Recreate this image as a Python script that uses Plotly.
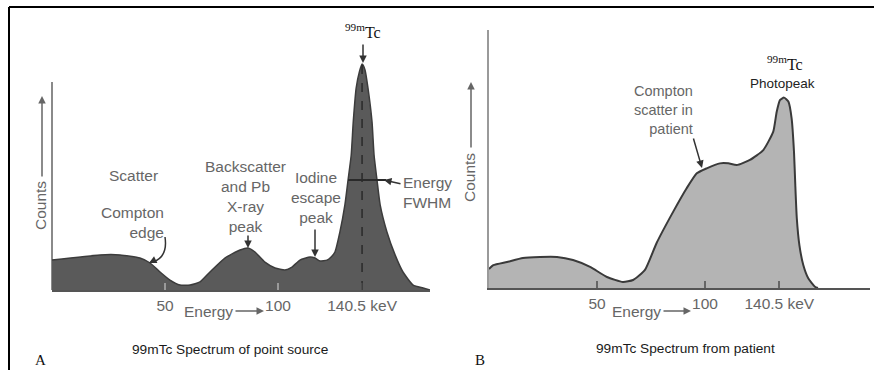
import plotly.graph_objects as go

W, H = 874, 370

# ---------------- data ----------------
# Panel A: 99mTc spectrum of a point source (energy in keV, counts in arbitrary units)
a_energy = [0, 21.2, 30.1, 38.9, 43.4, 47.8, 52.2, 56.6, 61.1, 65.5, 69.9, 76.5, 83.2,
            86.7, 89.8, 94.2, 98.7, 103.1, 106.2, 109.7, 114.2, 116.4, 118.6, 121.7,
            123.5, 125.2, 127.4, 129.6, 131.0, 132.4, 133.3, 134.6, 136.0, 137.2,
            138.5, 139.8, 141.6, 142.5, 143.8, 145.2, 148.2, 151.8, 155.3, 159.8,
            164.2, 167.3]
a_counts = [13.3, 15.6, 15.6, 14.2, 12.0, 8.0, 4.4, 2.2, 2.2, 3.6, 8.0, 14.2, 17.8,
            18.7, 16.9, 12.4, 9.8, 8.9, 10.2, 13.3, 14.7, 14.2, 12.9, 13.3,
            14.7, 16.9, 25.8, 37.8, 48.9, 60.0, 74.7, 89.8, 96.9, 100.4,
            97.8, 89.8, 74.7, 60.0, 48.9, 37.8, 25.8, 15.6, 8.0, 2.2,
            0.9, 0.0]

# Panel B: 99mTc spectrum from a patient
b_energy = [0, 2.0, 8.3, 15.7, 23.6, 31.5, 38.9, 46.8, 54.6, 62.0, 66.7, 72.2, 77.6,
            85.3, 91.5, 96.2, 100.8, 106.9, 110.8, 114.7, 120.8, 127.0, 131.6, 133.2,
            134.7, 136.6, 138.6, 140.1, 141.2, 141.8, 142.5, 143.7, 145.5, 147.8,
            150.9, 152.3]
b_counts = [10.0, 12.0, 13.7, 15.8, 16.3, 16.3, 14.7, 11.1, 5.8, 3.2, 4.2, 9.5, 23.7,
            40.2, 52.5, 60.4, 63.0, 65.6, 65.6, 64.7, 67.4, 72.6, 82.3, 92.8,
            98.9, 100.2, 98.1, 89.3, 71.7, 54.2, 36.7, 22.6, 12.1, 5.1,
            0.7, 0.0]

a_tick_vals = [50, 100, 137.2]
b_tick_vals = [50, 100, 134.4]
tick_text = ["50", "100", "140.5 keV"]

# ---------------- styles ----------------
SANS = "Arial, 'Liberation Sans', sans-serif"
SERIF = "'Times New Roman', 'Liberation Serif', serif"
GRAY = "#666666"
DARK = "#333333"


def X(px):
    return px / W


def Y(py):
    return 1 - py / H


def label(text, px, py, size=15.5, color=GRAY, family=SANS, xanchor="center",
          align="center", angle=0, yanchor="middle"):
    return dict(text=text, x=X(px), y=Y(py), xref="paper", yref="paper",
                showarrow=False, font=dict(size=size, color=color, family=family),
                xanchor=xanchor, yanchor=yanchor, align=align, textangle=angle)


def arrow(x0, y0, x1, y1, color=DARK, width=1.5):
    return dict(text="", x=X(x1), y=Y(y1), xref="paper", yref="paper",
                ax=x0 - x1, ay=y0 - y1, axref="pixel", ayref="pixel",
                showarrow=True, arrowhead=2, arrowsize=1, arrowwidth=width,
                arrowcolor=color, standoff=0, startstandoff=0)


def pline(x0, y0, x1, y1, color, width=2, dash="solid", layer="above"):
    return dict(type="line", xref="paper", yref="paper", x0=X(x0), y0=Y(y0),
                x1=X(x1), y1=Y(y1), line=dict(color=color, width=width, dash=dash),
                layer=layer)


fig = go.Figure()

fig.add_trace(go.Scatter(
    x=a_energy, y=a_counts, mode="lines", fill="tozeroy",
    fillcolor="#5a5a5a", line=dict(color="#3c3c3c", width=1.5, shape="spline", smoothing=0.5),
    xaxis="x", yaxis="y", hoverinfo="skip"))

fig.add_trace(go.Scatter(
    x=b_energy, y=b_counts, mode="lines", fill="tozeroy",
    fillcolor="#b4b4b4", line=dict(color="#3a3a3a", width=2, shape="spline", smoothing=0.5),
    xaxis="x2", yaxis="y2", hoverinfo="skip"))

peak_i = a_counts.index(max(a_counts))

shapes = [
    # outer frame
    pline(9, 7, 874, 7, "#000000", 2),
    pline(9, 7, 9, 370, "#000000", 2),
    # panel A counts axis
    pline(52, 82, 52, 290, "#8a8a8a", 2, layer="below"),
    # dashed line through photopeak
    dict(type="line", xref="x", yref="y", x0=a_energy[peak_i], x1=a_energy[peak_i],
         y0=0, y1=a_counts[peak_i], line=dict(color="#2a2a2a", width=1.5, dash="dash")),
    # FWHM bar
    pline(348, 180, 386, 180, "#2a2a2a", 2),
    # curved arrow shaft (Compton edge)
    dict(type="path", xref="paper", yref="paper",
         path=f"M {X(165)} {Y(237)} Q {X(168)} {Y(257)} {X(153)} {Y(262)}",
         line=dict(color=DARK, width=1.5)),
]

annotations = [
    # Panel A
    label("<sup>99m</sup>Tc", 362.5, 31, size=16, color="#111111", family=SERIF),
    arrow(363, 43, 363, 63),
    label("Scatter", 133, 175),
    label("Compton<br>edge", 166, 222, xanchor="right", align="right"),
    arrow(155, 260, 149, 263),
    label("Backscatter<br>and Pb<br>X-ray<br>peak", 246, 196.5),
    arrow(248, 234, 248, 248),
    label("Iodine<br>escape<br>peak", 316, 197.5),
    arrow(315, 228, 315, 257),
    label("Energy<br>FWHM", 401, 192, xanchor="left", align="left"),
    arrow(402, 184, 384, 180),
    label("Counts", 40, 206, angle=-90),
    arrow(42, 178, 42, 96, color=GRAY, width=1.5),
    label("Energy", 208, 311),
    arrow(234, 311, 264, 311, color=GRAY, width=1.5),
    label("99mTc Spectrum of point source", 230, 349, size=13.7, color="#1a1a1a"),
    label("A", 40, 370, size=15, color="#111111", family=SERIF, yanchor="bottom"),
    # Panel B
    label("<sup>99m</sup>Tc", 785, 63, size=16, color="#111111", family=SERIF),
    label("Photopeak", 782.5, 83, size=13.5, color="#222222"),
    label("Compton<br>scatter in<br>patient", 695, 110.5, size=14.5, xanchor="right", align="right"),
    arrow(693, 137, 702, 168),
    label("Counts", 469, 178, angle=-90),
    arrow(471, 149, 471, 82, color=GRAY, width=1.5),
    label("Energy", 636, 311),
    arrow(662, 311, 691, 311, color=GRAY, width=1.5),
    label("99mTc Spectrum from patient", 685, 348, size=13.7, color="#1a1a1a"),
    label("B", 480, 370, size=15, color="#111111", family=SERIF, yanchor="bottom"),
]

axis_common = dict(showgrid=False, zeroline=False, ticks="inside", ticklen=7,
                   tickwidth=1.5, tickmode="array", ticktext=tick_text,
                   tickfont=dict(size=15.5, color=GRAY, family=SANS), fixedrange=True)

fig.update_layout(
    width=W, height=H, margin=dict(l=0, r=0, t=0, b=0),
    paper_bgcolor="white", plot_bgcolor="rgba(0,0,0,0)", showlegend=False,
    xaxis=dict(domain=[X(52), X(430)], range=[0, 378 / 2.26], tickvals=a_tick_vals,
               showline=True, linecolor="#555555", linewidth=2, tickcolor="#9a9a9a",
               anchor="y", **axis_common),
    yaxis=dict(domain=[Y(290), Y(40)], range=[0, 250 / 2.25], visible=False, anchor="x"),
    xaxis2=dict(domain=[X(489), X(870)], range=[0, 381 / 2.16], tickvals=b_tick_vals,
                showline=True, linecolor="#555555", linewidth=2, tickcolor="#666666",
                anchor="y2", **axis_common),
    yaxis2=dict(domain=[Y(288), Y(30)], range=[0, 258 / 1.9], showline=True,
                linecolor="#9a9a9a", linewidth=2, showticklabels=False, ticks="",
                showgrid=False, zeroline=False, anchor="x2", fixedrange=True),
    shapes=shapes, annotations=annotations,
)

fig.write_html("out.html", config={"displayModeBar": False},
               post_script="document.body.style.margin='0';document.body.style.overflow='hidden';")
